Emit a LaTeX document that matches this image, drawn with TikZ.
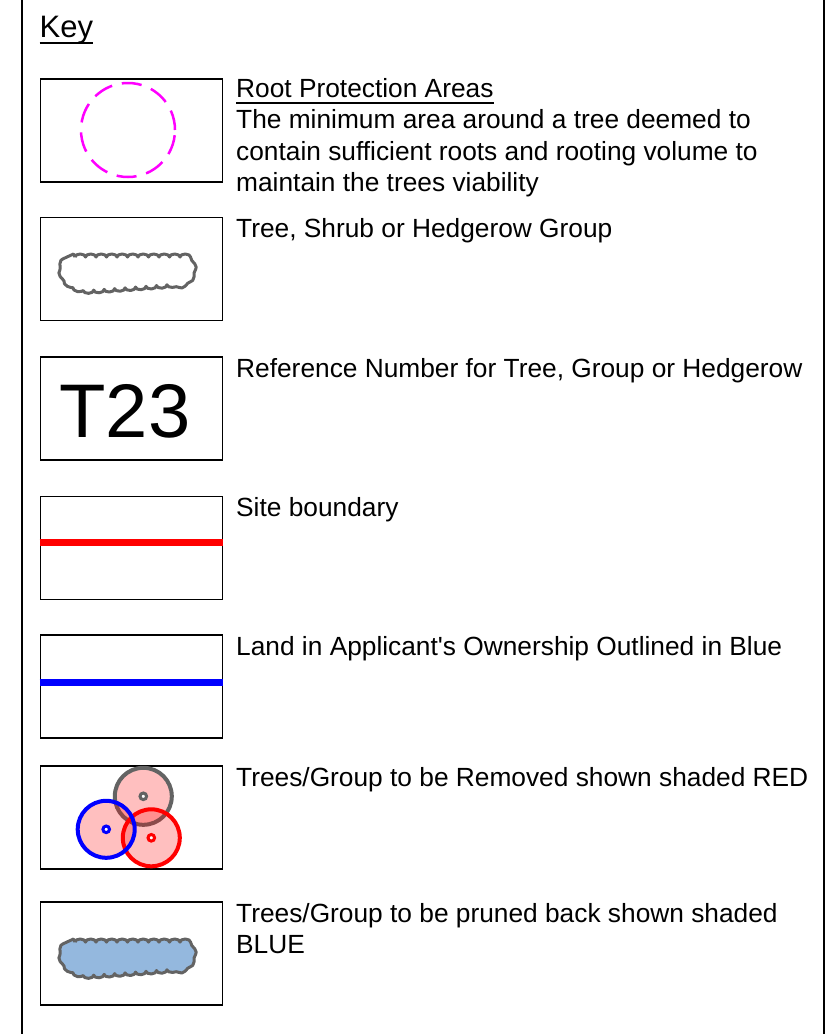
\documentclass[tikz,border=0pt]{standalone}
\usepackage{fontspec}
\setmainfont{Liberation Sans}
\usetikzlibrary{decorations.pathmorphing}
\definecolor{rpamag}{RGB}{255,0,255}
\definecolor{cloudgray}{RGB}{99,99,99}
\definecolor{prunefill}{RGB}{148,184,222}
\definecolor{sitered}{RGB}{255,0,0}
\definecolor{ownblue}{RGB}{0,0,255}
\begin{document}
\begin{tikzpicture}[x=1bp,y=-1bp,
  frameline/.style={draw=black,line width=2bp},
  keybox/.style={draw=black,line width=1.6bp,minimum width=182bp,minimum height=103bp,inner sep=0pt},
  keytext/.style={anchor=base west,inner sep=0pt,font=\fontsize{26.3bp}{31.5bp}\selectfont},
  rpa/.style={draw=rpamag,line width=2.5bp,dash pattern=on 20bp off 10bp},
  treering/.style={fill=red,fill opacity=0.25,line width=4bp},
  treestem/.style={fill=white,line width=3bp},
  grouppic/.pic={
    \draw[pic actions,line width=3bp,line join=round,decorate,
      decoration={bumps,segment length=21bp,amplitude=3bp}]
      (75,257) -- (180,257) .. controls (196,257) and (196,283) .. (178,284)
      -- (96,290) .. controls (56,293) and (56,257) .. (75,257) -- cycle;
  }]
\useasboundingbox (0,0) rectangle (828,1034);
\fill[white] (0,0) rectangle (828,1034);
% outer frame
\coordinate (ftl) at (22,0);
\coordinate (fbl) at (22,1034);
\coordinate (ftr) at (824,0);
\coordinate (fbr) at (824,1034);
\draw[frameline] (ftl) -- (fbl);
\draw[frameline] (ftr) -- (fbr);
% title
\node[anchor=base west,inner sep=0pt,font=\fontsize{31bp}{36bp}\selectfont] (key) at (39.5,37.3) {Key};
\draw[line width=2.2bp] ([yshift=-5.6bp]key.base west) -- ([yshift=-5.6bp]key.base east);
% boxes
\node[keybox] (b1) at (131.5,130.5) {};
\node[keybox] (b2) at (131.5,268.8) {};
\node[keybox] (b3) at (131.5,408.7) {};
\node[keybox] (b4) at (131.5,548) {};
\node[keybox] (b5) at (131.5,686.5) {};
\node[keybox] (b6) at (131.5,817.5) {};
\node[keybox] (b7) at (131.5,953.7) {};
% 1 root protection area
\draw[rpa] (128,130) circle[radius=47bp];
\node[keytext] (t1a) at (236,97) {Root Protection Areas};
\draw[line width=1.8bp] ([yshift=-6.3bp]t1a.base west) -- ([yshift=-6.3bp]t1a.base east);
\node[keytext] (t1b) at (236,128.5) {The minimum area around a tree deemed to};
\node[keytext] (t1c) at (236,160) {contain sufficient roots and rooting volume to};
\node[keytext] (t1d) at (236,191.5) {maintain the trees viability};
% 2 group
\pic[draw=cloudgray] (g1) at (0,0) {grouppic};
\node[keytext] (t2) at (236,237.5) {Tree, Shrub or Hedgerow Group};
% 3 reference number
\node[anchor=base,inner sep=0pt,font=\fontsize{76bp}{80bp}\selectfont] (t23) at (125,437.3) {T23};
\node[keytext] (t3) at (236,377) {Reference Number for Tree, Group or Hedgerow};
% 4 site boundary
\draw[sitered,line width=7bp] ([yshift=5.7bp]b4.west) -- ([yshift=5.7bp]b4.east);
\node[keytext] (t4) at (236,516) {Site boundary};
% 5 ownership
\draw[ownblue,line width=7bp] ([yshift=4.2bp]b5.west) -- ([yshift=4.2bp]b5.east);
\node[keytext] (t5) at (236,655) {Land in Applicant\textquotesingle s Ownership Outlined in Blue};
% 6 trees removed
\filldraw[treering,draw=cloudgray] (143.3,796.3) circle[radius=28.5bp];
\filldraw[treering,draw=sitered] (151.3,837.8) circle[radius=28.5bp];
\filldraw[treering,draw=ownblue] (106.2,829.3) circle[radius=28.5bp];
\filldraw[treestem,draw=cloudgray] (143.3,796.3) circle[radius=3.3bp];
\filldraw[treestem,draw=sitered] (151.3,837.8) circle[radius=3.3bp];
\filldraw[treestem,draw=ownblue] (106.2,829.3) circle[radius=3.3bp];
\node[keytext] (t6) at (236,786) {Trees/Group to be Removed shown shaded RED};
% 7 pruned
\pic[draw=cloudgray,fill=prunefill] (g2) at (0,685) {grouppic};
\node[keytext] (t7a) at (236,922) {Trees/Group to be pruned back shown shaded};
\node[keytext] (t7b) at (236,953.5) {BLUE};
\end{tikzpicture}
\end{document}
